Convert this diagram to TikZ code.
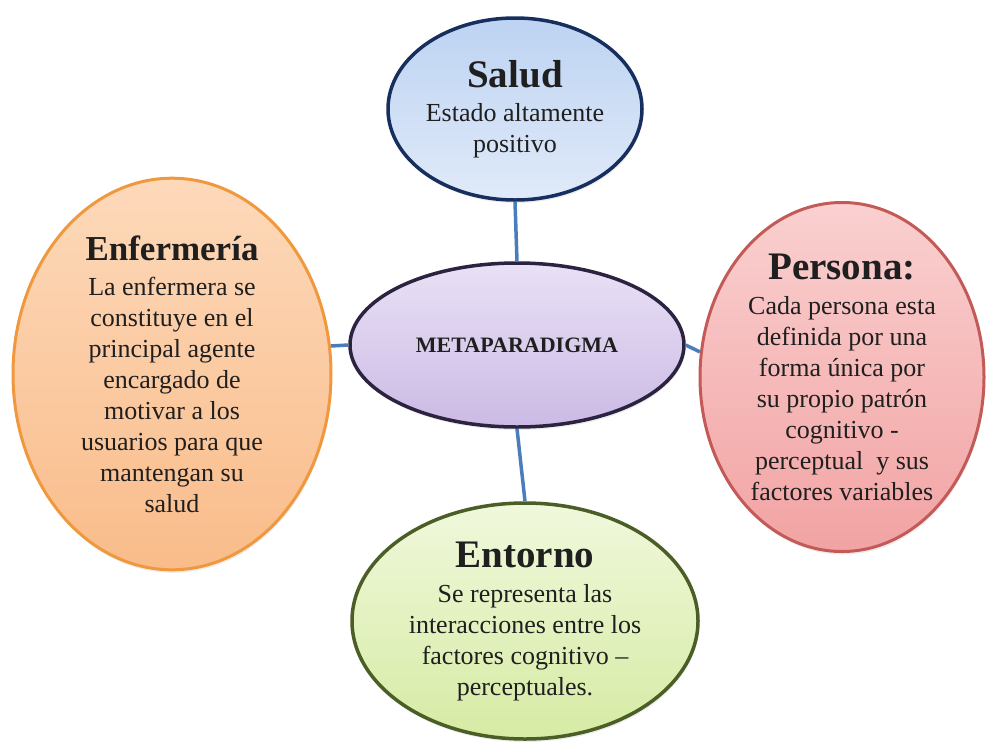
\documentclass[tikz,border=0pt]{standalone}
\usepackage{fontspec}
\setmainfont{Liberation Serif}
\usetikzlibrary{shapes.geometric,shadows}

\definecolor{linkblue}{HTML}{4A7EBB}
\definecolor{saludline}{HTML}{172F5E}
\definecolor{saludtop}{HTML}{BDD3F2}
\definecolor{saludbot}{HTML}{E0EAF9}
\definecolor{metaline}{HTML}{2B2340}
\definecolor{metatop}{HTML}{E9E1F5}
\definecolor{metabot}{HTML}{CBBAE5}
\definecolor{enfline}{HTML}{F0983E}
\definecolor{enftop}{HTML}{FDD9BA}
\definecolor{enfbot}{HTML}{F9BC8A}
\definecolor{perline}{HTML}{C35A58}
\definecolor{pertop}{HTML}{FAD0D0}
\definecolor{perbot}{HTML}{F2A3A3}
\definecolor{entline}{HTML}{4B5E26}
\definecolor{enttop}{HTML}{F0F8DC}
\definecolor{entbot}{HTML}{D6EBA4}

\newcommand{\bubtitle}[2][39]{{\fontsize{#1}{40}\selectfont\bfseries #2}}

\begin{document}
\begin{tikzpicture}[x=1pt, y=-1pt,
    bubble/.style={ellipse, draw, line width=3.5pt, inner sep=0pt, align=center,
      text=black!88, font=\fontsize{26}{31}\selectfont,
      drop shadow={opacity=.15, shadow xshift=1pt, shadow yshift=-3pt}},
    link/.style={draw=linkblue, line width=3.5pt}]
  \useasboundingbox (0,0) rectangle (990,742);

  % the four concepts round the centre
  \node[bubble, draw=saludline, top color=saludtop, bottom color=saludbot,
        minimum width=254pt, minimum height=182pt] (salud) at (515,109)
        {\bubtitle{Salud}\\[3pt] Estado altamente\\ positivo};
  \node[bubble, draw=metaline, top color=metatop, bottom color=metabot,
        minimum width=334pt, minimum height=164pt, font=\fontsize{22}{24}\selectfont\bfseries]
        (meta) at (517,345) {METAPARADIGMA};
  \node[bubble, draw=enfline, line width=3pt, top color=enftop, bottom color=enfbot,
        minimum width=318pt, minimum height=352pt] (enf) at (172,374)
        {\bubtitle[35]{Enfermería}\\[4pt] La enfermera se\\ constituye en el\\ principal agente\\
         encargado de\\ motivar a los\\ usuarios para que\\ mantengan su\\ salud};
  \node[bubble, draw=perline, line width=3pt, top color=pertop, bottom color=perbot,
        minimum width=284pt, minimum height=340pt] (per) at (842,377)
        {\bubtitle{Persona:}\\[4pt] Cada persona esta\\ definida por una\\ forma única por\\
         su propio patrón\\ cognitivo -\\ perceptual\ \ y sus\\ factores variables};
  \node[bubble, draw=entline, top color=enttop, bottom color=entbot,
        minimum width=346pt, minimum height=236pt] (ent) at (525,621)
        {\bubtitle{Entorno}\\[4pt] Se representa las\\ interacciones entre los\\
         factores cognitivo --\\ perceptuales.};

  \draw[link] (salud.south) -- (meta.north);
  \draw[link] (meta.west) -- (enf.10);
  \draw[link] (meta.east) -- (per.170);
  \draw[link] (meta.south) -- (ent.north);
\end{tikzpicture}
\end{document}
